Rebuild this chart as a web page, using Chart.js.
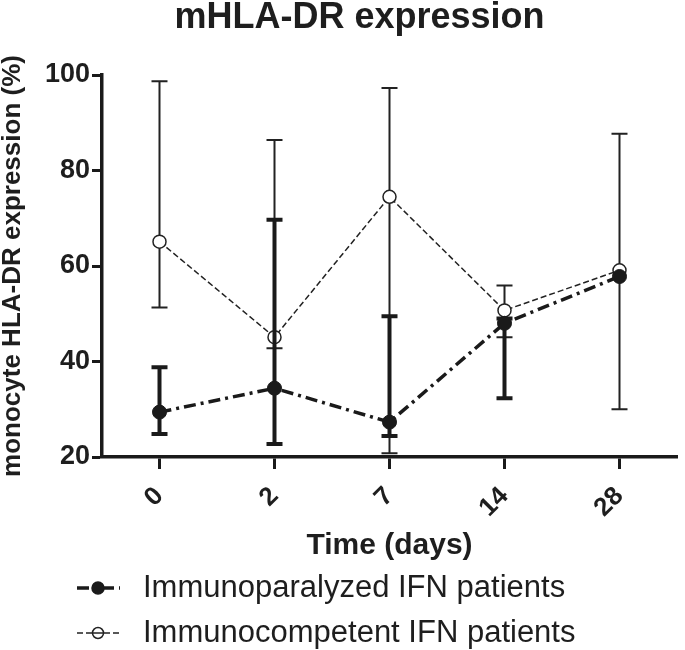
<!DOCTYPE html>
<html>
<head>
<meta charset="utf-8">
<script src="https://cdn.jsdelivr.net/npm/chart.js@4.4.0/dist/chart.umd.min.js"></script>
<style>
html, body { margin: 0; padding: 0; background: #fff; }
</style>
</head>
<body>
<canvas id="grafico" width="685" height="650"></canvas>
<script>
// dados
const dias = ['0', '2', '7', '14', '28'];
const paralisadosMedia = [29.4, 34.4, 27.3, 48.0, 57.8];
const paralisadosMin = [24.8, 22.7, 24.4, 32.3, null];
const paralisadosMax = [38.8, 69.7, 49.5, 49.0, null];
const competentesMedia = [65.1, 45.1, 74.5, 50.7, 59.1];
const competentesMin = [51.3, 42.8, 20.8, 45.1, 30.0];
const competentesMax = [98.7, 86.4, 97.3, 55.9, 87.7];

const fonte = "'Liberation Sans', Arial, sans-serif";
const corTexto = '#1e1e1e';

// desenha as barras de erro de cada serie antes da propria serie
const barrasDeErro = {
	id: 'barrasDeErro',
	beforeDatasetDraw(chart, args) {
		const ds = chart.data.datasets[args.index];
		if (!ds.erroMin) return;
		const ctx = chart.ctx;
		const x = chart.scales.x;
		const y = chart.scales.y;
		ctx.save();
		ctx.strokeStyle = ds.borderColor;
		ctx.lineWidth = ds.larguraErro;
		ds.erroMin.forEach((min, i) => {
			const max = ds.erroMax[i];
			if (min == null || max == null) return;
			const px = x.getPixelForValue(i);
			const yMin = y.getPixelForValue(min);
			const yMax = y.getPixelForValue(max);
			ctx.beginPath();
			ctx.moveTo(px, yMin);
			ctx.lineTo(px, yMax);
			ctx.moveTo(px - 8, yMin);
			ctx.lineTo(px + 8, yMin);
			ctx.moveTo(px - 8, yMax);
			ctx.lineTo(px + 8, yMax);
			ctx.stroke();
		});
		ctx.restore();
	}
};

// legenda com linha tracejada + marcador, uma serie por linha
const legendaManual = {
	id: 'legendaManual',
	afterLayout(chart) {
		// centraliza o titulo como no original
		chart.titleBlock.left = 36;
	},
	afterDraw(chart) {
		const ctx = chart.ctx;
		const linhas = [588, 633];
		chart.data.datasets.forEach((ds, i) => {
			const yy = linhas[i];
			ctx.save();
			ctx.strokeStyle = ds.borderColor;
			ctx.lineWidth = ds.borderWidth;
			ctx.setLineDash(ds.borderDash);
			ctx.beginPath();
			ctx.moveTo(77, yy);
			ctx.lineTo(120, yy);
			ctx.stroke();
			ctx.setLineDash([]);
			ctx.beginPath();
			ctx.arc(98, yy, i === 0 ? 6 : 5.5, 0, Math.PI * 2);
			ctx.fillStyle = ds.pointBackgroundColor;
			ctx.fill();
			ctx.lineWidth = 1.5;
			ctx.stroke();
			if (i === 1) {
				ctx.beginPath();
				ctx.moveTo(92, yy);
				ctx.lineTo(104, yy);
				ctx.stroke();
			}
			ctx.fillStyle = corTexto;
			ctx.font = '31px ' + fonte;
			ctx.textBaseline = 'middle';
			ctx.fillText(ds.label, 143, yy);
			ctx.restore();
		});
	}
};

window.onload = () => {
	const ctx = document.getElementById('grafico').getContext('2d');
	new Chart(ctx, {
		type: 'line',
		data: {
			labels: dias,
			datasets: [
				{
					label: 'Immunoparalyzed IFN patients',
					data: paralisadosMedia,
					erroMin: paralisadosMin,
					erroMax: paralisadosMax,
					larguraErro: 4,
					borderColor: '#1a1a1a',
					borderWidth: 3.5,
					borderDash: [12, 5, 3, 5],
					pointStyle: 'circle',
					pointRadius: 7,
					pointBackgroundColor: '#1a1a1a',
					pointBorderColor: '#1a1a1a',
					pointBorderWidth: 1,
					tension: 0
				},
				{
					label: 'Immunocompetent IFN patients',
					data: competentesMedia,
					erroMin: competentesMin,
					erroMax: competentesMax,
					larguraErro: 2,
					borderColor: '#222222',
					borderWidth: 1.5,
					borderDash: [6, 3],
					pointStyle: 'circle',
					pointRadius: 6.5,
					pointBackgroundColor: '#ffffff',
					pointBorderColor: '#222222',
					pointBorderWidth: 1.5,
					tension: 0
				}
			]
		},
		options: {
			responsive: false,
			animation: false,
			layout: {
				padding: { left: 0, right: 2, top: 0, bottom: 86 }
			},
			scales: {
				x: {
					type: 'category',
					offset: true,
					afterFit(axis) { axis.height = 107; },
					grid: {
						display: true,
						drawOnChartArea: false,
						drawTicks: true,
						tickLength: 12,
						tickWidth: 3,
						tickColor: '#1a1a1a'
					},
					border: { display: true, width: 3.5, color: '#1a1a1a' },
					ticks: {
						minRotation: 45,
						maxRotation: 45,
						padding: 12,
						color: corTexto,
						font: { family: fonte, size: 26, weight: 'bold' }
					},
					title: {
						display: true,
						text: 'Time (days)',
						color: corTexto,
						padding: { top: 0, bottom: 0 },
						font: { family: fonte, size: 30, weight: 'bold' }
					}
				},
				y: {
					min: 20,
					max: 100,
					afterFit(axis) { axis.width = 102; },
					grid: {
						display: true,
						drawOnChartArea: false,
						drawTicks: true,
						tickLength: 10,
						tickWidth: 3,
						tickColor: '#1a1a1a'
					},
					border: { display: true, width: 3.5, color: '#1a1a1a' },
					ticks: {
						stepSize: 20,
						padding: 2,
						color: corTexto,
						font: { family: fonte, size: 27, weight: 'bold' }
					},
					title: {
						display: true,
						text: 'monocyte HLA-DR expression (%)',
						color: corTexto,
						padding: { top: 0, bottom: 0 },
						font: { family: fonte, size: 26, weight: 'bold', lineHeight: 1 }
					}
				}
			},
			plugins: {
				title: {
					display: true,
					text: 'mHLA-DR expression',
					color: corTexto,
					padding: { top: 0, bottom: 39 },
					font: { family: fonte, size: 36, weight: 'bold', lineHeight: 1 }
				},
				legend: { display: false },
				tooltip: { enabled: false }
			}
		},
		plugins: [barrasDeErro, legendaManual]
	});
};
</script>
</body>
</html>
